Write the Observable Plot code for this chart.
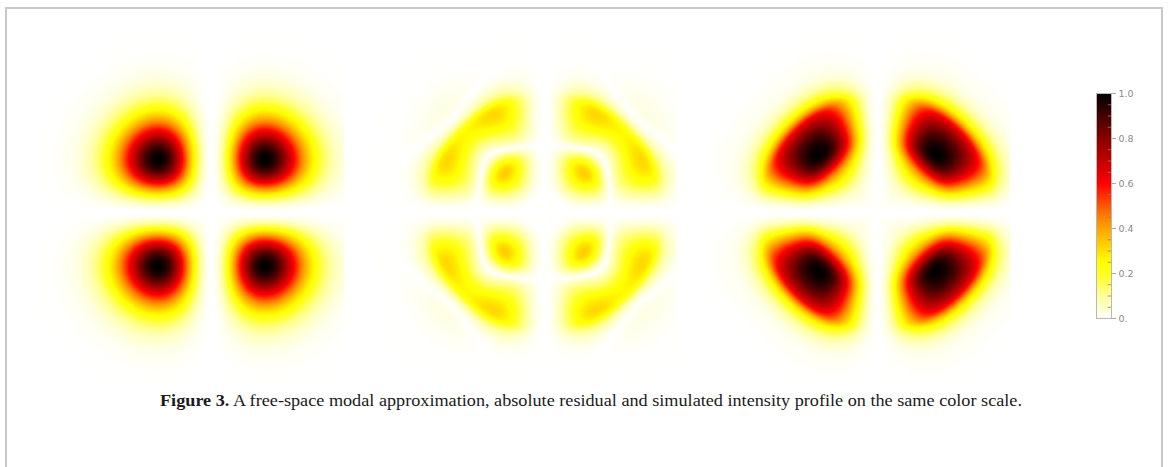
<!DOCTYPE html>
<html>
<head>
<meta charset="utf-8">
<script src="https://cdn.jsdelivr.net/npm/d3@7"></script>
<script src="https://cdn.jsdelivr.net/npm/@observablehq/plot@0.6"></script>
<style>
  html, body { margin: 0; padding: 0; background: #fff; overflow: hidden; }
  #stage { position: relative; width: 1168px; height: 467px; overflow: hidden; }
  #frame { position: absolute; left: 5px; top: 7px; width: 1154px; height: 520px; border: 2px solid #c8c8c8; box-sizing: content-box; }
  .abs { position: absolute; }
</style>
</head>
<body>
<div id="stage">
  <div id="frame"></div>
</div>
<script>
// ---- Data (panel units: 1 unit ≈ 100 px) ----
const panelNames = ["Free-space modal approximation", "Absolute residual", "Simulated intensity"];
const panelCenterX = [210.5, 544, 877];   // lobe-pattern centres (layout)
const modalPeakRadius = [0.757];           // radius of lobe maxima (diagonal), modal panel
// simulated intensity along the lobe diagonal
const simRadius    = [0, 0.20, 0.35, 0.55, 0.75, 0.85, 0.95, 1.05, 1.15, 1.25, 1.35, 1.45, 1.60, 2.00, 3.00];
const simIntensity = [0, 0.02, 0.08, 0.36, 0.92, 1.00, 0.97, 0.88, 0.70, 0.34, 0.14, 0.05, 0.012, 0, 0];
const simPeakRadius = [0.85];
const simHexMix = [0.055];                 // higher-order admixture giving triangular lobes
const panelXDomain = [-1.73, 1.33];
const panelYDomain = [-1.74, 1.72];
const colorStops = [0, 0.1, 0.2, 0.25, 0.35, 0.45, 0.6, 0.8, 1];
const colorRamp = ["#ffffff", "#ffff9a", "#ffff1e", "#ffff00", "#ffc400", "#ff8200", "#ff0000", "#8a0000", "#000000"];
const barTicks = [0, 0.2, 0.4, 0.6, 0.8, 1];
const barTickLabels = ["0.", "0.2", "0.4", "0.6", "0.8", "1.0"];
const barMinorTicks = [0.05, 0.1, 0.15, 0.25, 0.3, 0.35, 0.45, 0.5, 0.55, 0.65, 0.7, 0.75, 0.85, 0.9, 0.95];
const captionLead = "Figure 3.";
const captionBody = " A free-space modal approximation, absolute residual and simulated intensity profile on the same color scale.";

// ---- monotone cubic interpolation of the read profile ----
function monotone(xs, ys) {
  const n = xs.length, d = [], m = new Array(n);
  for (let i = 0; i < n - 1; i++) d.push((ys[i + 1] - ys[i]) / (xs[i + 1] - xs[i]));
  m[0] = d[0]; m[n - 1] = d[n - 2];
  for (let i = 1; i < n - 1; i++) m[i] = d[i - 1] * d[i] <= 0 ? 0 : (d[i - 1] + d[i]) / 2;
  for (let i = 0; i < n - 1; i++) {
    if (d[i] === 0) { m[i] = 0; m[i + 1] = 0; continue; }
    const a = m[i] / d[i], b = m[i + 1] / d[i], s = a * a + b * b;
    if (s > 9) { const t = 3 / Math.sqrt(s); m[i] = t * a * d[i]; m[i + 1] = t * b * d[i]; }
  }
  return (x) => {
    if (x <= xs[0]) return ys[0];
    if (x >= xs[n - 1]) return ys[n - 1];
    let i = d3.bisectRight(xs, x) - 1;
    const h = xs[i + 1] - xs[i], t = (x - xs[i]) / h, t2 = t * t, t3 = t2 * t;
    return (2 * t3 - 3 * t2 + 1) * ys[i] + (t3 - 2 * t2 + t) * h * m[i] + (-2 * t3 + 3 * t2) * ys[i + 1] + (t3 - t2) * h * m[i + 1];
  };
}
const simRadial = monotone(simRadius, simIntensity);

function maxOf(fn) {
  let m = 0;
  for (let i = 0; i <= 300; i++) for (let j = 0; j <= 300; j++) {
    const v = fn(-2 + 4 * i / 300, -2 + 4 * j / 300); if (v > m) m = v;
  }
  return m;
}
function rawModal(x, y) {
  const s = modalPeakRadius[0] / Math.SQRT2, u = x / s, v = y / s;
  return (u * v) ** 2 * Math.exp(-u * u - v * v);
}
function rawSim(x, y) {
  const r = Math.hypot(x, y); if (r === 0) return 0;
  const th = Math.atan2(y, x), k = simHexMix[0] * (r / simPeakRadius[0]) ** 2;
  return Math.max(0, simRadial(r)) * (Math.sin(2 * th) + k * Math.sin(6 * th)) ** 2;
}
const modalMax = maxOf(rawModal), simMax = maxOf(rawSim);
const modal = (x, y) => rawModal(x, y) / modalMax;
const simulated = (x, y) => rawSim(x, y) / simMax;
const residual = (x, y) => Math.abs(modal(x, y) - simulated(x, y));
const panelFns = [modal, residual, simulated];

const colorOpts = {type: "linear", domain: colorStops, range: colorRamp, clamp: true, interpolate: "rgb"};

const stage = document.getElementById("stage");
const PW = 306, PH = 346;
panelFns.forEach((fn, i) => {
  const svg = Plot.plot({
    width: PW, height: PH, margin: 0,
    x: {domain: panelXDomain, axis: null},
    y: {domain: panelYDomain, axis: null},
    color: colorOpts,
    style: {background: "transparent"},
    marks: [
      Plot.raster({x1: panelXDomain[0], x2: panelXDomain[1], y1: panelYDomain[0], y2: panelYDomain[1],
        fill: fn, pixelSize: 1, imageRendering: "auto", title: () => panelNames[i]})
    ]
  });
  svg.classList.add("abs");
  svg.style.left = (panelCenterX[i] - 173) + "px";
  svg.style.top = "40px";
  stage.appendChild(svg);
});

// ---- colour bar ----
const bar = Plot.plot({
  width: 60, height: 235,
  marginTop: 5, marginBottom: 5, marginLeft: 10, marginRight: 35,
  x: {domain: [0, 1], axis: null},
  y: {domain: [0, 1], axis: null},
  color: colorOpts,
  style: {background: "transparent", fontFamily: "DejaVu Sans, sans-serif", fontSize: "9.5px"},
  marks: [
    Plot.raster({x1: 0, x2: 1, y1: 0, y2: 1, fill: (x, y) => y, pixelSize: 1}),
    Plot.ruleY(barMinorTicks, {y: d => d, x1: 0.78, x2: 1, stroke: "#9a7a7a", strokeWidth: 0.8}),
    Plot.frame({stroke: "#b8b8b8", strokeWidth: 1}),
    Plot.axisY({anchor: "right", ticks: barTicks, tickFormat: (d) => barTickLabels[barTicks.indexOf(d)],
      tickSize: 4, tickPadding: 3, color: "#8a8a8a", stroke: "#aaa"})
  ]
});
bar.classList.add("abs");
bar.style.left = "1086px";
bar.style.top = "88px";
stage.appendChild(bar);

// ---- caption ----
const ns = "http://www.w3.org/2000/svg";
const cap = document.createElementNS(ns, "svg");
cap.setAttribute("width", 1168); cap.setAttribute("height", 40);
cap.classList.add("abs"); cap.style.left = "0px"; cap.style.top = "385px";
const t = document.createElementNS(ns, "text");
t.setAttribute("x", 160); t.setAttribute("y", 21);
t.setAttribute("font-family", "Liberation Serif, Times New Roman, serif");
t.setAttribute("font-size", "16.5");
t.setAttribute("fill", "#1a1a1a");
t.setAttribute("textLength", 862);
t.setAttribute("lengthAdjust", "spacingAndGlyphs");
const t1 = document.createElementNS(ns, "tspan"); t1.setAttribute("font-weight", "bold"); t1.textContent = captionLead;
const t2 = document.createElementNS(ns, "tspan"); t2.textContent = captionBody;
t.appendChild(t1); t.appendChild(t2); cap.appendChild(t);
stage.appendChild(cap);
</script>
</body>
</html>
